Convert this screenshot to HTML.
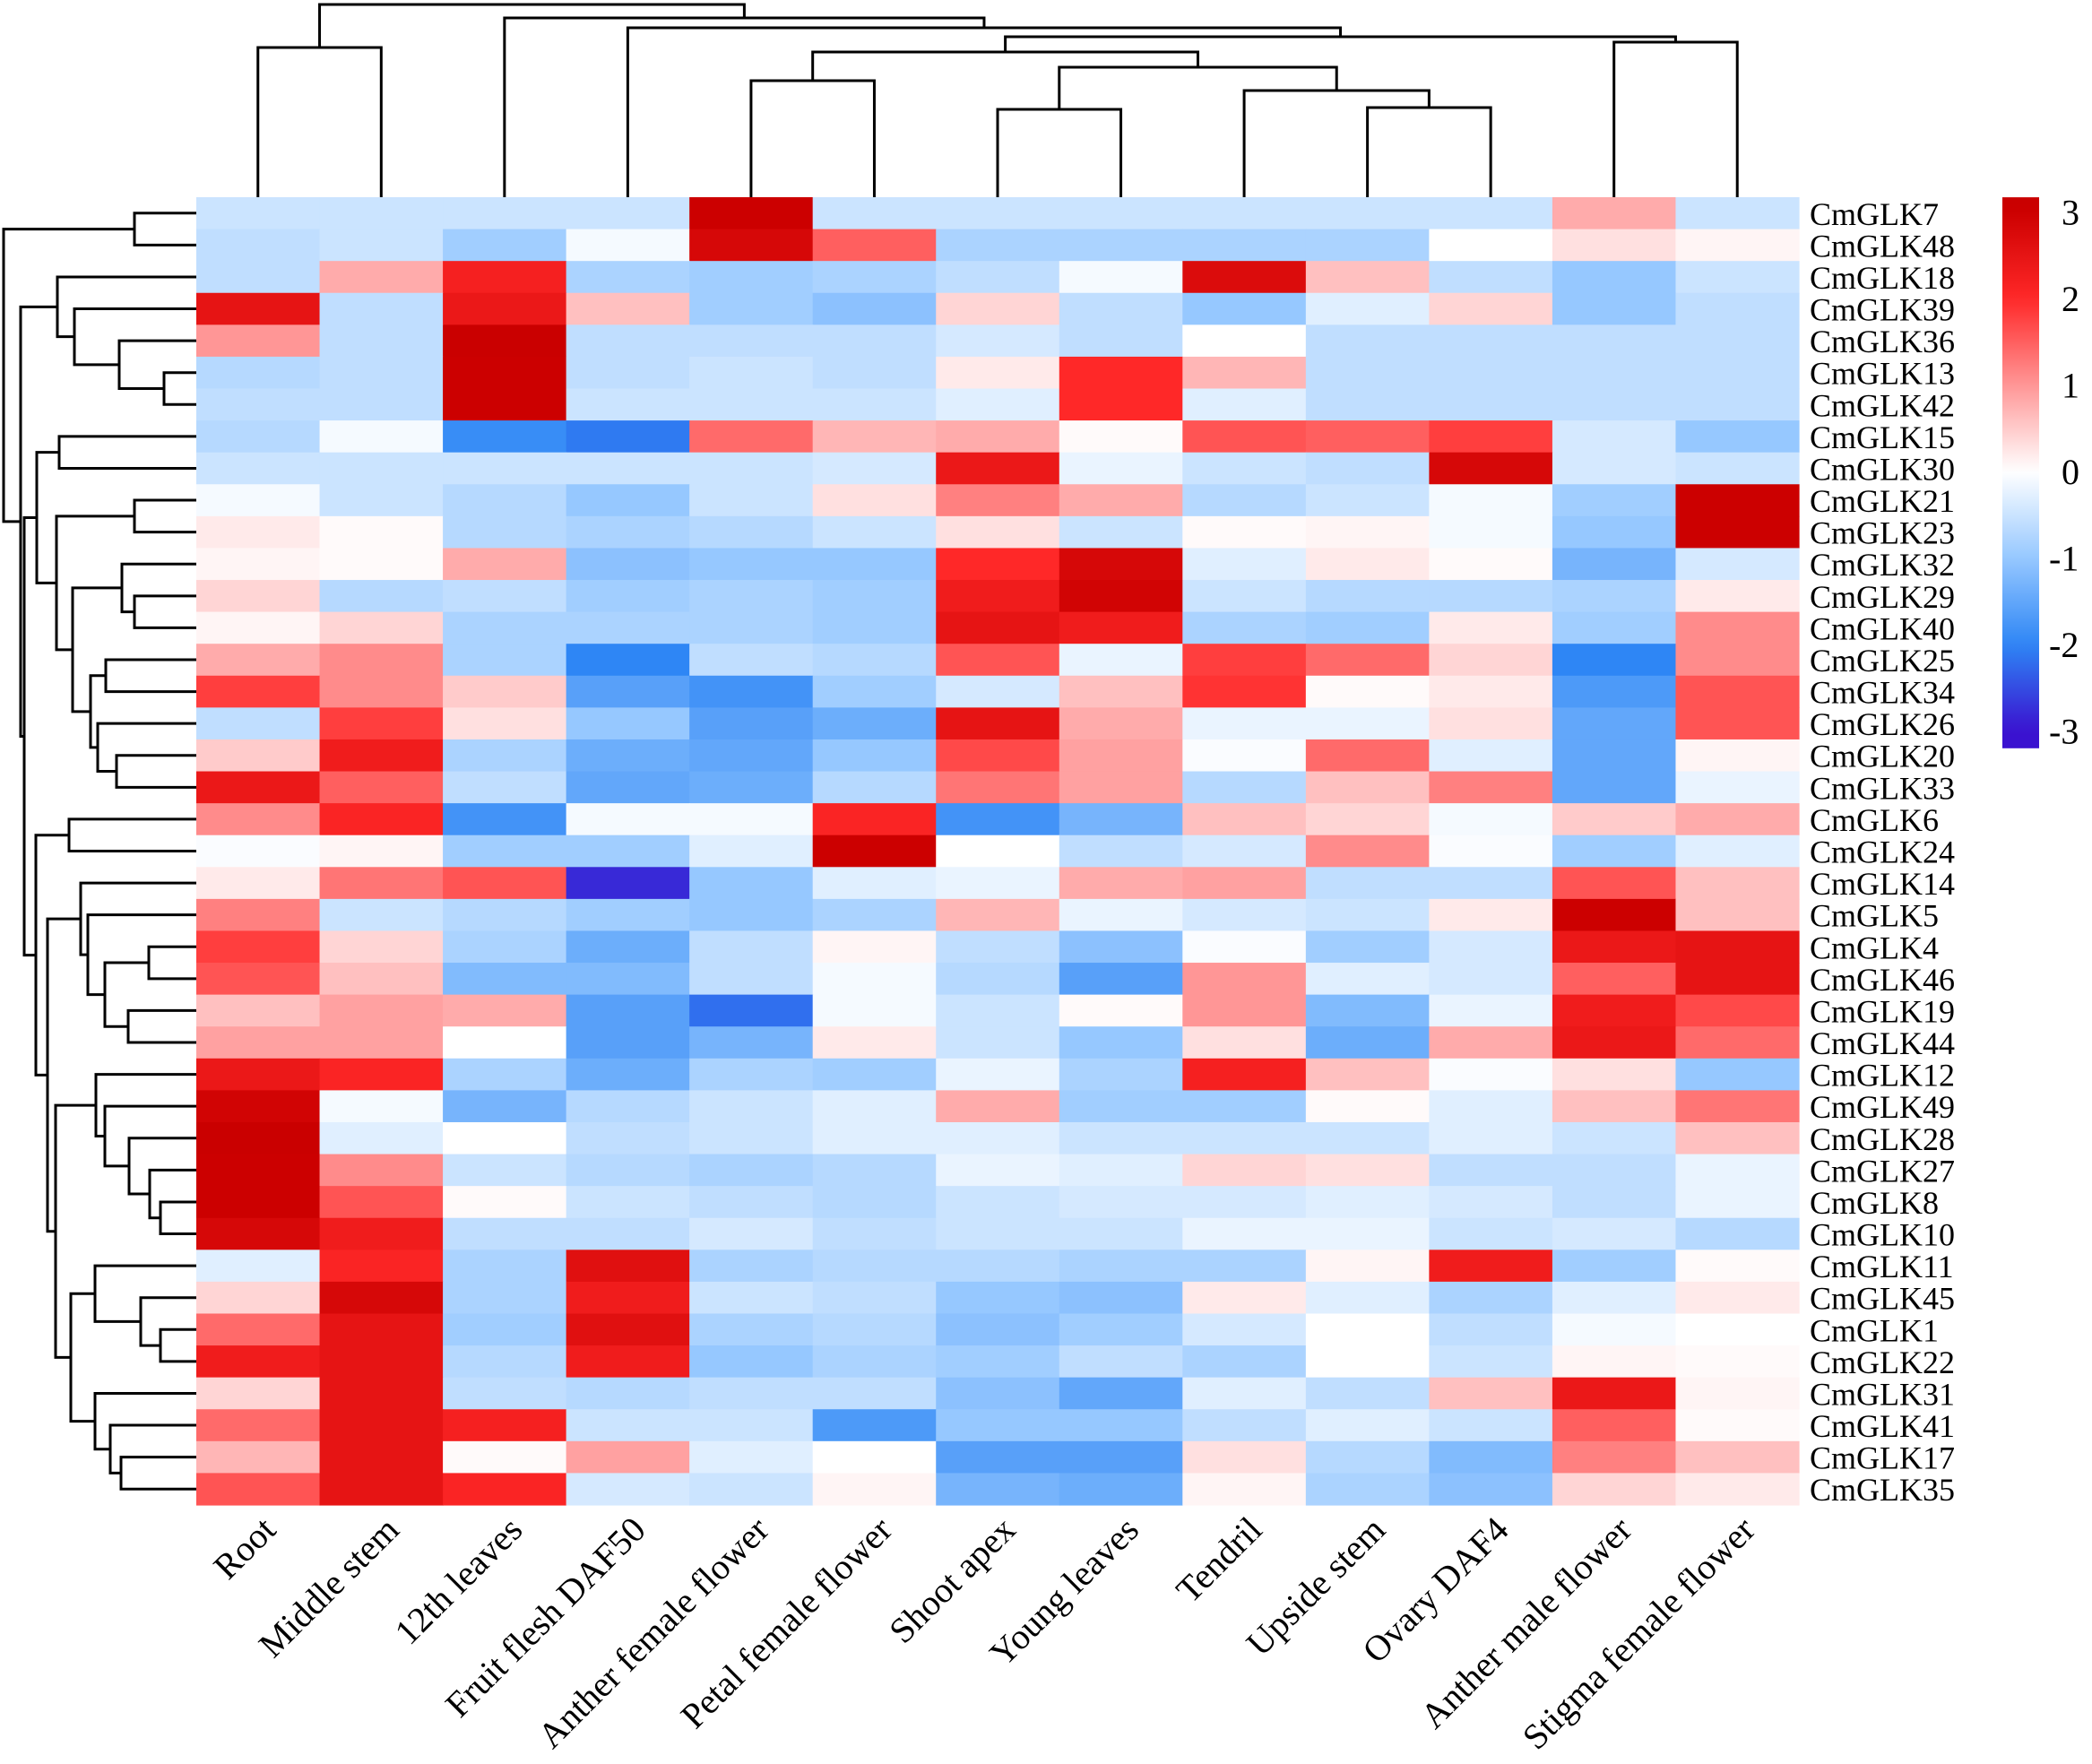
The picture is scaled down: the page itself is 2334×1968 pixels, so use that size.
<!DOCTYPE html>
<html><head><meta charset="utf-8">
<style>
html,body{margin:0;padding:0;background:#fff;}
svg{display:block;}
text{font-family:"Liberation Serif",serif;fill:#000;}
</style></head>
<body>
<svg id="chart" width="2334" height="1968" viewBox="0 0 2334 1968" xmlns="http://www.w3.org/2000/svg">
<g id="cells"></g>
<g id="rowdendro"></g>
<g id="coldendro"></g>
<g id="rowlabels"></g>
<g id="collabels"></g>
<g id="legend"></g>
</svg>
<script>
const columns = ["Root","Middle stem","12th leaves","Fruit flesh DAF50","Anther female flower","Petal female flower","Shoot apex","Young leaves","Tendril","Upside stem","Ovary DAF4","Anther male flower","Stigma female flower"];
const rows = ["CmGLK7","CmGLK48","CmGLK18","CmGLK39","CmGLK36","CmGLK13","CmGLK42","CmGLK15","CmGLK30","CmGLK21","CmGLK23","CmGLK32","CmGLK29","CmGLK40","CmGLK25","CmGLK34","CmGLK26","CmGLK20","CmGLK33","CmGLK6","CmGLK24","CmGLK14","CmGLK5","CmGLK4","CmGLK46","CmGLK19","CmGLK44","CmGLK12","CmGLK49","CmGLK28","CmGLK27","CmGLK8","CmGLK10","CmGLK11","CmGLK45","CmGLK1","CmGLK22","CmGLK31","CmGLK41","CmGLK17","CmGLK35"];
const values = [
[-0.5,-0.5,-0.5,-0.5,3,-0.5,-0.5,-0.5,-0.5,-0.5,-0.5,0.8,-0.5],
[-0.6,-0.5,-0.9,-0.1,2.8,1.5,-0.8,-0.8,-0.8,-0.8,0,0.3,0.1],
[-0.6,0.8,2.2,-0.8,-0.9,-0.8,-0.6,-0.1,2.7,0.6,-0.6,-1,-0.5],
[2.5,-0.6,2.4,0.6,-0.9,-1.1,0.4,-0.6,-1,-0.3,0.4,-1,-0.6],
[1,-0.6,3.1,-0.6,-0.6,-0.6,-0.4,-0.6,0,-0.6,-0.6,-0.6,-0.6],
[-0.7,-0.6,3,-0.6,-0.5,-0.6,0.2,2,0.7,-0.6,-0.6,-0.6,-0.6],
[-0.6,-0.6,3,-0.5,-0.5,-0.5,-0.3,2,-0.3,-0.6,-0.6,-0.6,-0.6],
[-0.7,-0.1,-1.9,-2.1,1.4,0.7,0.8,0.05,1.6,1.5,1.8,-0.4,-1],
[-0.5,-0.5,-0.5,-0.5,-0.5,-0.4,2.4,-0.2,-0.5,-0.6,2.8,-0.4,-0.5],
[-0.1,-0.5,-0.7,-1,-0.5,0.3,1.2,0.8,-0.7,-0.5,-0.1,-0.9,3],
[0.2,0.05,-0.7,-0.8,-0.7,-0.5,0.3,-0.5,0.05,0.1,-0.1,-1,3],
[0.1,0.05,0.8,-1.1,-1,-1,2,2.8,-0.3,0.2,0.05,-1.3,-0.4],
[0.4,-0.7,-0.6,-0.9,-0.8,-0.9,2.3,2.9,-0.5,-0.7,-0.7,-0.8,0.2],
[0.1,0.4,-0.8,-0.8,-0.8,-0.9,2.5,2.3,-0.8,-0.9,0.2,-0.9,1.1],
[0.8,1.1,-0.8,-2,-0.6,-0.7,1.6,-0.2,1.8,1.4,0.4,-2,1.1],
[1.8,1.1,0.5,-1.6,-1.8,-0.9,-0.4,0.6,1.9,0.05,0.2,-1.7,1.6],
[-0.6,1.8,0.3,-1,-1.6,-1.4,2.5,0.8,-0.2,-0.2,0.3,-1.5,1.6],
[0.5,2.3,-0.8,-1.4,-1.5,-1,1.7,0.9,-0.05,1.4,-0.3,-1.5,0.1],
[2.4,1.5,-0.6,-1.5,-1.4,-0.7,1.3,0.9,-0.7,0.6,1.2,-1.5,-0.2],
[1.1,2.1,-1.8,-0.1,-0.1,2.1,-1.8,-1.3,0.6,0.4,-0.1,0.5,0.8],
[-0.05,0.1,-0.9,-0.9,-0.3,3,0,-0.6,-0.4,1.1,-0.05,-0.9,-0.3],
[0.2,1.3,1.6,-2.8,-1,-0.3,-0.2,0.8,0.9,-0.6,-0.6,1.6,0.6],
[1.2,-0.5,-0.7,-0.9,-1,-0.8,0.7,-0.2,-0.4,-0.5,0.2,3,0.6],
[1.8,0.4,-0.8,-1.4,-0.6,0.1,-0.6,-1.1,-0.05,-0.9,-0.4,2.4,2.5],
[1.6,0.6,-1.2,-1.2,-0.6,-0.1,-0.7,-1.6,1,-0.3,-0.4,1.5,2.5],
[0.6,0.9,0.8,-1.6,-2.2,-0.1,-0.5,0.05,1,-1.2,-0.2,2.3,1.7],
[0.9,0.9,0,-1.6,-1.3,0.2,-0.5,-1,0.3,-1.4,0.8,2.4,1.4],
[2.4,2.1,-0.8,-1.4,-0.8,-0.9,-0.2,-0.8,2.2,0.6,-0.05,0.3,-1],
[2.9,-0.1,-1.3,-0.7,-0.5,-0.3,0.8,-0.9,-0.9,0.05,-0.3,0.6,1.3],
[3.1,-0.3,0,-0.6,-0.5,-0.3,-0.3,-0.5,-0.5,-0.5,-0.3,-0.5,0.6],
[3,1.1,-0.5,-0.7,-0.8,-0.7,-0.2,-0.3,0.4,0.3,-0.6,-0.6,-0.2],
[3,1.6,0.05,-0.5,-0.6,-0.7,-0.5,-0.4,-0.4,-0.3,-0.4,-0.6,-0.2],
[2.8,2.3,-0.6,-0.6,-0.4,-0.6,-0.5,-0.5,-0.2,-0.2,-0.5,-0.4,-0.7],
[-0.3,2.1,-0.8,2.6,-0.8,-0.7,-0.7,-0.8,-0.8,0.1,2.3,-0.9,0.05],
[0.4,2.8,-0.8,2.3,-0.5,-0.6,-1,-1.1,0.2,-0.3,-0.8,-0.3,0.2],
[1.4,2.5,-0.9,2.6,-0.8,-0.7,-1.1,-0.9,-0.4,0,-0.6,-0.1,0],
[2.3,2.5,-0.7,2.3,-1,-0.8,-0.9,-0.6,-0.8,0,-0.5,0.1,0.05],
[0.4,2.5,-0.6,-0.7,-0.6,-0.6,-1.1,-1.5,-0.3,-0.6,0.6,2.4,0.1],
[1.4,2.5,2.2,-0.5,-0.5,-1.7,-1,-1,-0.6,-0.3,-0.5,1.5,0.05],
[0.7,2.5,0.05,0.9,-0.3,0,-1.6,-1.6,0.3,-0.7,-1.2,1.2,0.6],
[1.6,2.5,2.1,-0.4,-0.5,0.1,-1.3,-1.4,0.1,-0.8,-1.1,0.4,0.2]
];
const legendTicks = [3,2,1,0,-1,-2,-3];
// dendrogram topology: [left, right, height]; leaves are row/column indices
const treeA = [2,[3,[4,[5,6,183],133],83],64];
const treeB = [[9,10,150],[[11,[12,13,150],136],[[14,15,118],[16,[17,18,130],109],101],81],63];
const treeF = [21,[22,[[23,24,166],[25,26,143],117],98],90];
const treeJ = [27,[28,[29,[30,[31,32,179],167],144],117],107];
const treeK = [[33,[34,[35,36,179],157],106],[37,[38,[39,40,135],123],106],79];
const treeD = [[19,20,77],[treeF,[treeJ,treeK,62],53],40];
const rowTree = [[0,1,150],[treeA,[[[7,8,66],treeB,41],treeD,27],23],4];
const colTree = [[0,1,53],[2,[3,[[[4,5,90],[[6,7,122],[8,[9,10,120],101],75],58],[11,12,47],41],31],20],5];

const NS = "http://www.w3.org/2000/svg";
const X0 = 219, X1 = 2007, Y0 = 220, Y1 = 1679;
const cw = (X1 - X0) / columns.length, rh = (Y1 - Y0) / rows.length;
const xCol = i => X0 + i * cw;
const yRow = i => Y0 + i * rh;
const stops = [[-3,[58,18,208]],[-2,[46,134,245]],[-1,[150,200,255]],[0,[255,255,255]],[1,[255,150,150]],[2,[255,40,40]],[3,[204,0,0]]];
function color(v){
  v = Math.max(-3.2, Math.min(3.2, v));
  if (v <= -3) return "rgb(58,18,208)";
  if (v >= 3) { return "rgb(" + Math.round(204 - (v-3)*20) + ",0,0)"; }
  for (let k = 0; k < stops.length - 1; k++) {
    const a = stops[k], b = stops[k+1];
    if (v >= a[0] && v <= b[0]) {
      const t = (v - a[0]) / (b[0] - a[0]);
      const c = a[1].map((q, j) => Math.round(q + (b[1][j] - q) * t));
      return "rgb(" + c.join(",") + ")";
    }
  }
  return "#fff";
}
function mk(tag, attrs, parent){
  const e = document.createElementNS(NS, tag);
  for (const k in attrs) e.setAttribute(k, attrs[k]);
  parent.appendChild(e);
  return e;
}
const cells = document.getElementById("cells");
values.forEach((row, r) => row.forEach((v, c) => {
  const e = mk("rect", {x: xCol(c), y: yRow(r), width: cw + 0.6, height: rh + 0.6, fill: color(v)}, cells);
  
  
}));
function drawTree(node, g, leafPos, vertical){
  if (typeof node === "number") return [leafPos(node), vertical ? Y0 : X0];
  const a = drawTree(node[0], g, leafPos, vertical);
  const b = drawTree(node[1], g, leafPos, vertical);
  const h = node[2];
  let d;
  if (vertical) d = `M${a[0]},${a[1]}V${h}H${b[0]}V${b[1]}`;
  else d = `M${a[1]},${a[0]}H${h}V${b[0]}H${b[1]}`;
  const p = mk("path", {d: d, fill: "none", stroke: "#000", "stroke-width": 3}, g);
  
  
  return [(a[0] + b[0]) / 2, h];
}
drawTree(rowTree, document.getElementById("rowdendro"), i => yRow(i) + rh/2, false);
drawTree(colTree, document.getElementById("coldendro"), i => xCol(i) + cw/2, true);
const rl = document.getElementById("rowlabels");
rows.forEach((name, r) => {
  const t = mk("text", {x: 2019, y: yRow(r) + rh/2 + 13, "font-size": 36}, rl);
  t.textContent = name;
  
  
});
const cl = document.getElementById("collabels");
columns.forEach((name, c) => {
  const x = xCol(c) + cw/2 + 22, y = Y1 + 30;
  const t = mk("text", {x: x, y: y, "font-size": 40, "text-anchor": "end", transform: `rotate(-45 ${x} ${y})`}, cl);
  t.textContent = name;
  
  
});
const lg = document.getElementById("legend");
const LY = v => 526 - v * 96.5;
const defs = mk("defs", {}, lg);
const grad = mk("linearGradient", {id: "lgrad", x1: 0, y1: 0, x2: 0, y2: 1}, defs);
for (let k = 0; k <= 40; k++) {
  const v = 3.17 - k * (6.37 / 40);
  mk("stop", {offset: k/40, "stop-color": color(v)}, grad);
}
const bar = mk("rect", {x: 2234, y: LY(3.17), width: 41, height: LY(-3.2) - LY(3.17), fill: "url(#lgrad)"}, lg);


legendTicks.forEach(v => {
  const t = mk("text", {x: v < 0 ? 2286 : 2300, y: LY(v) + 14, "font-size": 40}, lg);
  t.textContent = v < 0 ? "-" + Math.abs(v) : String(v);
  
  
});
</script>
</body></html>
